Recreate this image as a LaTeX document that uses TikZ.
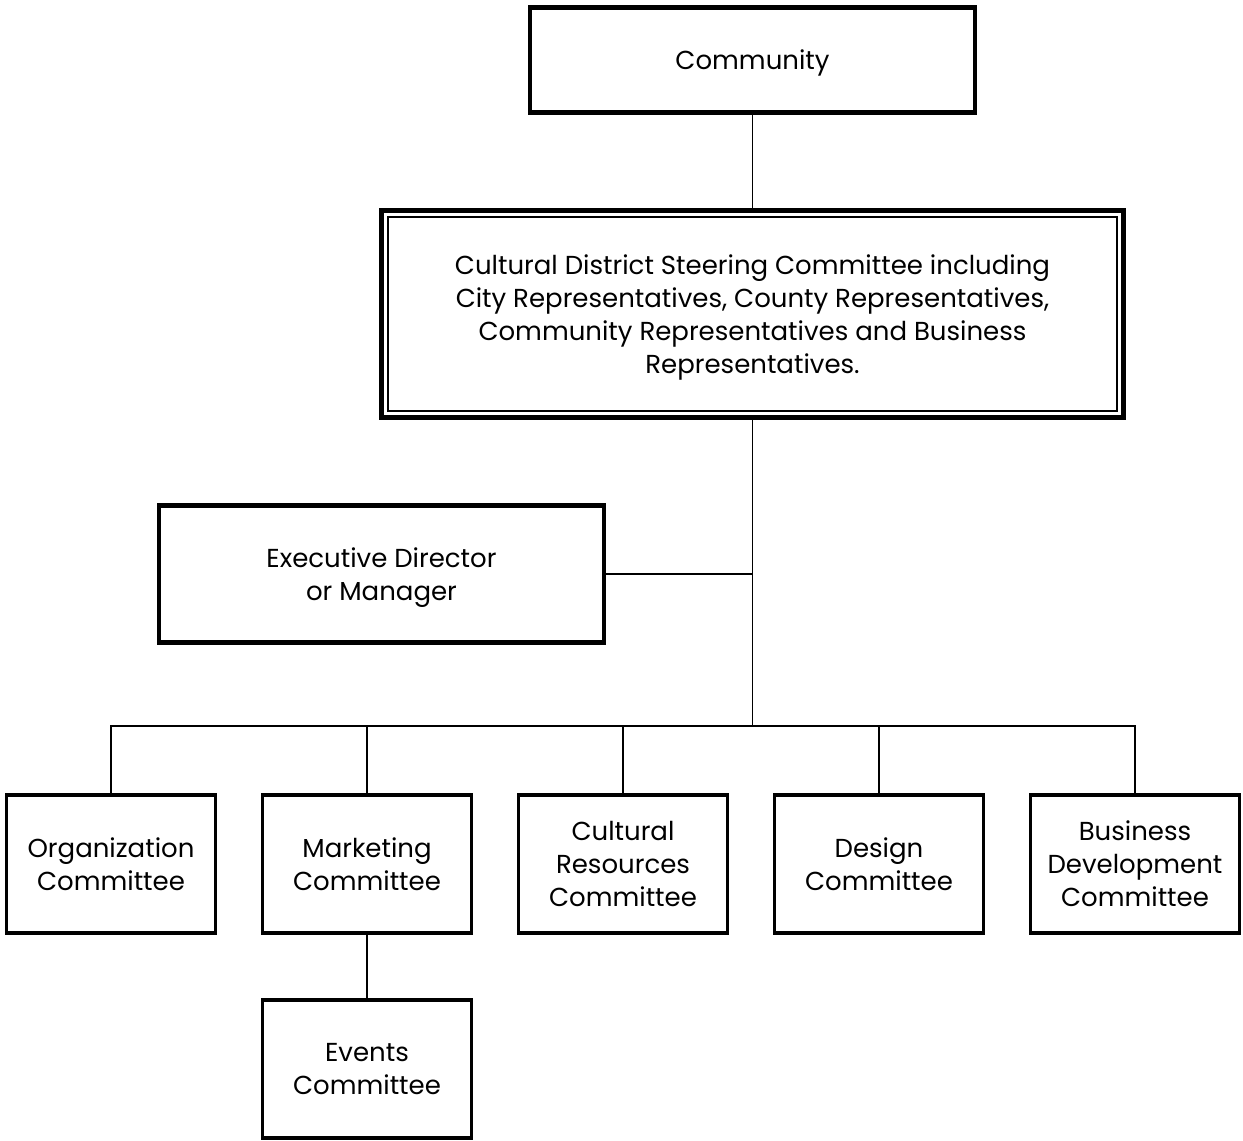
\documentclass[tikz,border=0pt]{standalone}
\usepackage{fontspec}
\setmainfont{Poppins}
\tikzset{
    box/.style={draw, line width=2.6pt, align=center, inner sep=2pt, text depth=0pt,
        font=\fontsize{14.8}{18.8}\selectfont},
    comitbox/.style={box, line width=2.1pt, minimum width=4.18cm, minimum height=2.76cm},
    link/.style={line width=1pt}
}
\begin{document}
\begin{tikzpicture}[x=0.02cm, y=-0.02cm]
    \useasboundingbox (0,0) rectangle (1243,1141);

    \node[box, minimum width=8.9cm, minimum height=2.1cm] (comm) at (752.5,60) {Community};
    \node[box, minimum width=14.84cm, minimum height=4.14cm] (steer) at (752.5,314)
        {Cultural District Steering Committee including\\
         City Representatives, County Representatives,\\
         Community Representatives and Business\\
         Representatives.};
    \draw[line width=1.1pt] ([shift={(0.17cm,0.17cm)}]steer.south west) rectangle
        ([shift={(-0.17cm,-0.17cm)}]steer.north east); % inner frame
    \node[box, minimum width=8.9cm, minimum height=2.74cm] (exec) at (381.5,574)
        {Executive Director\\or Manager};

    \node[comitbox] (org)  at (111,864)  {Organization\\Committee};
    \node[comitbox] (mkt)  at (367,864)  {Marketing\\Committee};
    \node[comitbox] (cult) at (623,864)  {Cultural\\Resources\\Committee};
    \node[comitbox] (dsgn) at (879,864)  {Design\\Committee};
    \node[comitbox] (biz)  at (1135,864) {Business\\Development\\Committee};
    \node[comitbox] (evnt) at (367,1069) {Events\\Committee};

    \coordinate (bus) at (752.5,726);

    \draw[link] (comm) -- (steer);
    \draw[link] (steer) -- (bus);
    \draw[link] (exec.east) -- (exec.east -| bus);
    \foreach \n in {org,mkt,cult,dsgn,biz}
        \draw[link] (\n.north) |- (bus);
    \draw[link] (mkt) -- (evnt);
\end{tikzpicture}
\end{document}
